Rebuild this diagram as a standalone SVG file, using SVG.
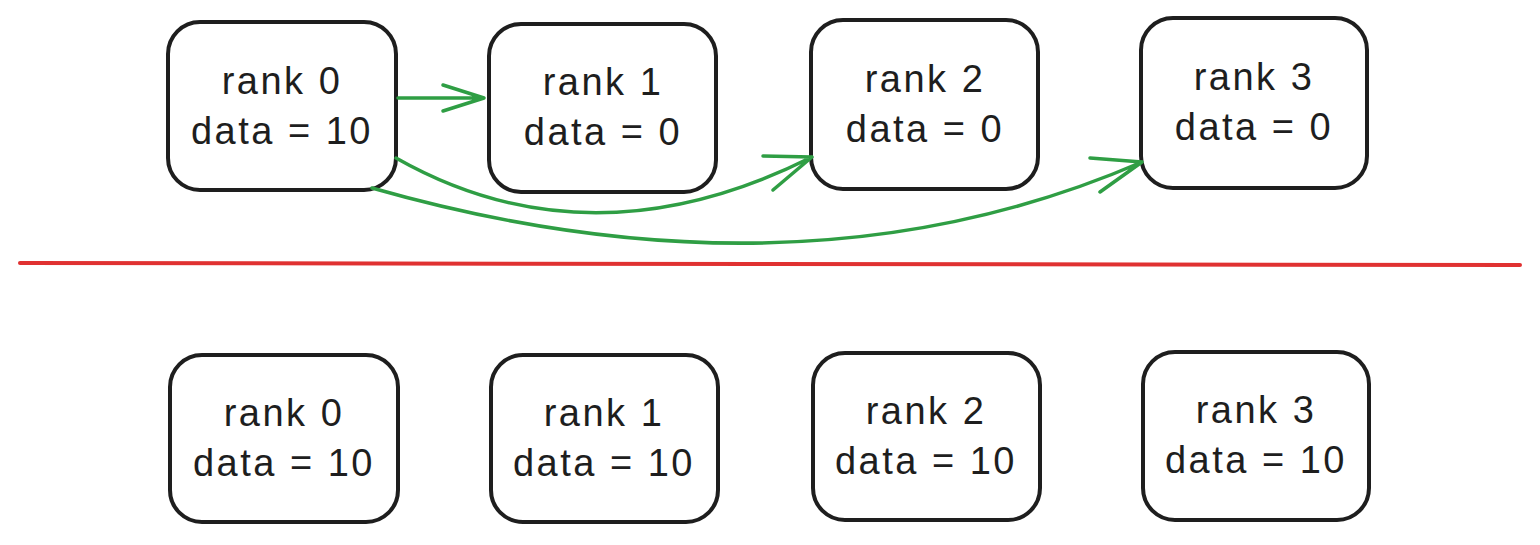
<svg xmlns="http://www.w3.org/2000/svg" width="1540" height="545" viewBox="0 0 1540 545">
<style>
.box{fill:#fff;stroke:#1e1e1e;stroke-width:4}
.t{font-family:"Liberation Sans",Arial,sans-serif;font-size:38px;fill:#1e1e1e;text-anchor:middle;letter-spacing:2.5px}
.g{fill:none;stroke:#2f9e44;stroke-width:3.5;stroke-linecap:round;stroke-linejoin:round}
</style>
<rect width="1540" height="545" fill="#fff"/>
<g id="top0"><rect class="box" x="168" y="22" width="228" height="168" rx="32"/><text class="t" x="282" y="94">rank 0</text><text class="t" x="282" y="144">data = 10</text></g>
<g id="top1"><rect class="box" x="489" y="24" width="227" height="168" rx="32"/><text class="t" x="603" y="95">rank 1</text><text class="t" x="603" y="145">data = 0</text></g>
<g id="top2"><rect class="box" x="811" y="20" width="227" height="169" rx="32"/><text class="t" x="925" y="92">rank 2</text><text class="t" x="925" y="142">data = 0</text></g>
<g id="top3"><rect class="box" x="1141" y="18" width="226" height="170" rx="32"/><text class="t" x="1254" y="90">rank 3</text><text class="t" x="1254" y="140">data = 0</text></g>
<g id="bot0"><rect class="box" x="170" y="355" width="228" height="167" rx="32"/><text class="t" x="284" y="426">rank 0</text><text class="t" x="284" y="476">data = 10</text></g>
<g id="bot1"><rect class="box" x="491" y="355" width="227" height="167" rx="32"/><text class="t" x="604" y="426">rank 1</text><text class="t" x="604" y="476">data = 10</text></g>
<g id="bot2"><rect class="box" x="813" y="353" width="227" height="167" rx="32"/><text class="t" x="926" y="424">rank 2</text><text class="t" x="926" y="474">data = 10</text></g>
<g id="bot3"><rect class="box" x="1143" y="352" width="226" height="168" rx="32"/><text class="t" x="1256" y="423">rank 3</text><text class="t" x="1256" y="473">data = 10</text></g>
<g id="connectors">
<path class="g" d="M398 98 L484 98 M443 85 L484 98 L443 111"/>
<path class="g" d="M396 158 Q590 268 812 157 M763 156 L812 157 L773 190"/>
<path class="g" d="M372 188 Q800 310 1142 162 M1090 158 L1142 162 L1100 192"/>
</g>
<line id="divider" x1="20" y1="263" x2="1520" y2="265" stroke="#e03131" stroke-width="4" stroke-linecap="round"/>
</svg>
